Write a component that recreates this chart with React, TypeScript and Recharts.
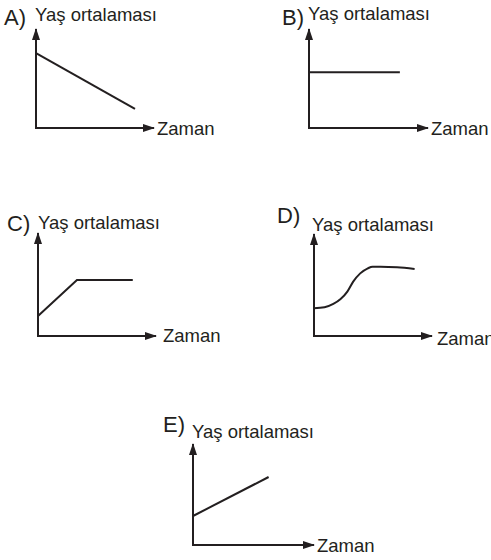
import React from 'react';
import { LineChart, Line, XAxis, YAxis } from 'recharts';

const axisTitle = 'Yaş ortalaması';
const timeTitle = 'Zaman';
const optionLabels = ['A)', 'B)', 'C)', 'D)', 'E)'];

// values on a 0..10 scale for both time (t) and mean age (v)
const seriesA = [{ t: 0, v: 7.65 }, { t: 8.46, v: 1.95 }];
const seriesB = [{ t: 0, v: 5.7 }, { t: 7.7, v: 5.7 }];
const seriesC = [{ t: 0, v: 1.96 }, { t: 3.33, v: 5.5 }, { t: 8.1, v: 5.5 }];
const seriesD = [
  { t: 0, v: 2.74 }, { t: 0.9, v: 2.84 }, { t: 1.65, v: 3.17 }, { t: 2.25, v: 3.63 },
  { t: 2.85, v: 4.39 }, { t: 3.35, v: 5.38 }, { t: 3.95, v: 6.2 }, { t: 4.6, v: 6.7 },
  { t: 5.0, v: 6.86 }, { t: 5.7, v: 6.86 }, { t: 7.1, v: 6.8 }, { t: 8.6, v: 6.63 },
];
const seriesE = [{ t: 0, v: 2.9 }, { t: 6.3, v: 6.8 }];

const INK = '#231f20';
const M = 6;

interface Frame { x0: number; y0: number; top: number; tip: number; }
interface Texts { lx: number; ly: number; tx: number; ty: number; zx: number; zy: number; }

const frames: Frame[] = [
  { x0: 36, y0: 128, top: 28, tip: 155 },
  { x0: 309, y0: 128, top: 28, tip: 429 },
  { x0: 38, y0: 336, top: 232, tip: 157 },
  { x0: 314, y0: 336, top: 233, tip: 433 },
  { x0: 193, y0: 545, top: 443, tip: 315 },
];

const texts: Texts[] = [
  { lx: 4, ly: 25, tx: 35, ty: 21, zx: 157, zy: 135 },
  { lx: 282, ly: 25, tx: 308, ty: 20, zx: 431, zy: 135 },
  { lx: 7, ly: 231, tx: 38, ty: 229, zx: 163, zy: 342 },
  { lx: 277, ly: 223, tx: 312, ty: 231, zx: 437, zy: 345 },
  { lx: 163, ly: 432, tx: 192, ty: 438, zx: 317, zy: 552 },
];

const panels = [
  { data: seriesA, curve: 'linear' },
  { data: seriesB, curve: 'linear' },
  { data: seriesC, curve: 'linear' },
  { data: seriesD, curve: 'monotone' },
  { data: seriesE, curve: 'linear' },
];

const Panel = ({ data, frame, curve }: { data: { t: number; v: number }[]; frame: Frame; curve: any }) => {
  const w = frame.tip - frame.x0 - 2;
  const h = frame.y0 - frame.top - 2;
  return (
    <div style={{ position: 'absolute', left: frame.x0 - M, top: frame.top + 2 - M }}>
      <LineChart width={w + 2 * M} height={h + 2 * M} data={data} margin={{ top: M, right: M, bottom: M - 1, left: M - 1 }}>
        <XAxis
          dataKey="t"
          type="number"
          domain={[0, 10]}
          height={1}
          tick={false}
          tickLine={false}
          axisLine={{ stroke: INK, strokeWidth: 2, strokeLinecap: 'square', markerEnd: 'url(#arrowHead)' } as any}
        />
        <YAxis
          type="number"
          domain={[0, 10]}
          width={1}
          tick={false}
          tickLine={false}
          axisLine={{ stroke: INK, strokeWidth: 2, strokeLinecap: 'square', markerStart: 'url(#arrowHead)' } as any}
        />
        <Line dataKey="v" type={curve} stroke={INK} strokeWidth={2} dot={false} isAnimationActive={false} />
      </LineChart>
    </div>
  );
};

export default function App() {
  return (
    <div style={{ position: 'absolute', left: 0, top: 0, width: 491, height: 560, background: '#fff', overflow: 'hidden' }}>
      <svg width={491} height={560} style={{ position: 'absolute', left: 0, top: 0 }}>
        <defs>
          <marker
            id="arrowHead"
            viewBox="0 0 12 8"
            markerUnits="userSpaceOnUse"
            markerWidth={12}
            markerHeight={8}
            refX={10}
            refY={4}
            orient="auto-start-reverse"
          >
            <path d="M0,0 L12,4 L0,8 Z" fill={INK} />
          </marker>
        </defs>
        {texts.map((p, i) => (
          <g key={i} fill={INK} fontFamily="'Liberation Sans', Arial, sans-serif">
            <text x={p.lx} y={p.ly} fontSize={22}>{optionLabels[i]}</text>
            <text x={p.tx} y={p.ty} fontSize={18.5}>{axisTitle}</text>
            <text x={p.zx} y={p.zy} fontSize={18.5}>{timeTitle}</text>
          </g>
        ))}
      </svg>
      {panels.map((p, i) => (
        <Panel key={i} data={p.data} frame={frames[i]} curve={p.curve} />
      ))}
    </div>
  );
}
